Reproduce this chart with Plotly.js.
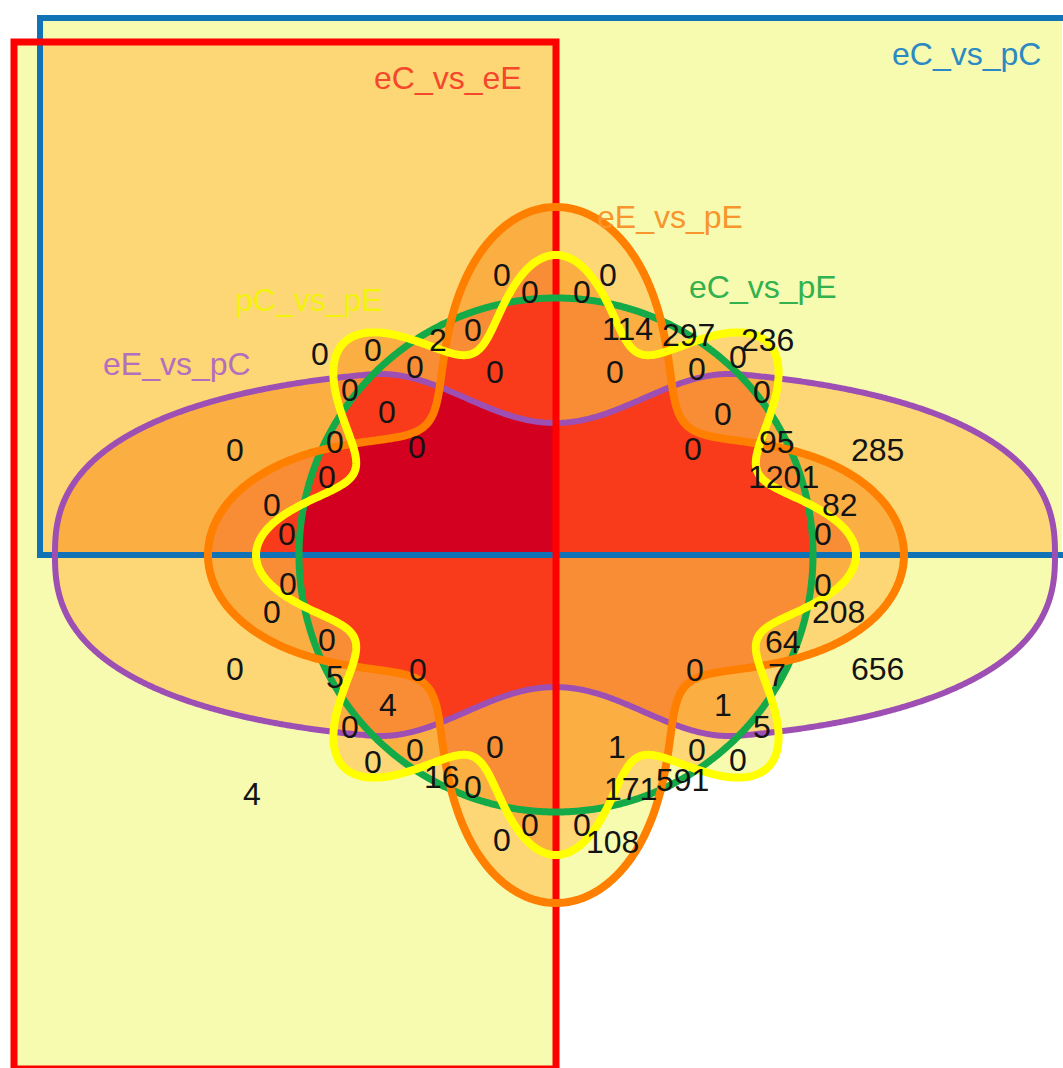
<!DOCTYPE html>
<html><head><meta charset="utf-8">
<script src="https://cdn.plot.ly/plotly-3.0.1.min.js"></script>
<style>html,body{margin:0;padding:0;background:#fff;}#chart{width:1063px;height:1068px;}</style>
</head><body><div id="chart"></div>
<script>
// ---------------- data ----------------
const setNames = ['eC_vs_eE', 'eC_vs_pC', 'eE_vs_pC', 'eE_vs_pE', 'eC_vs_pE', 'pC_vs_pE'];

const regionCounts = [
  // upper-left
  0,0,0,0,2,0,0,0,0,0,0,0,0,0,0,0,
  // upper-right
  0,0,114,297,236,0,0,0,0,0,0,95,285,1201,82,0,
  // lower-left
  0,0,0,0,5,0,4,0,0,0,0,16,0,4,0,0,
  // lower-right
  0,208,64,7,656,0,1,5,1,0,0,171,591,0,108
];

// label anchor positions (layout, not data)
const labelX = [502,530,320,373,438,473,415,495,350,387,235,335,417,327,272,287,
  582,608,627,688,767,615,697,738,762,723,693,777,877,783,840,823,
  288,272,327,235,335,418,388,350,373,415,495,442,473,252,530,502,
  823,838,783,777,877,695,723,762,617,697,738,630,682,582,612];
const labelY = [273,290,352,348,338,328,365,370,388,410,448,440,445,475,503,532,
  290,273,327,333,338,370,367,355,390,412,447,440,448,475,503,532,
  582,610,638,667,675,668,703,725,760,748,745,775,785,792,823,838,
  583,610,640,673,667,668,703,725,745,748,758,787,778,823,840];

// ---------------- geometry (style) ----------------
const W = 1063, H = 1068;
const CX = 556, CY = 555;
const RED = {x0: 14, x1: 556, y0: 42, y1: 1069};
const BLUE = {x0: 40, x1: 1100, y0: 18, y1: 555};
const PUR = {cx: 555, a: 500, b: 187, n: 2.5, dip: 55, w: 185};
const orangeR = t => 266 + 82 * Math.cos(4 * t);
const greenR = t => 257;
const yellowR = t => 259 + 41 * Math.cos(8 * t);

function purpleHalf(dx) {
  const u = Math.abs(dx) / PUR.a;
  if (u >= 1) return -1;
  let h = PUR.b * Math.pow(1 - Math.pow(u, PUR.n), 1 / PUR.n);
  if (Math.abs(dx) < PUR.w) h -= PUR.dip * (1 + Math.cos(Math.PI * dx / PUR.w)) / 2;
  return h;
}
function inPolar(x, y, rf) {
  const dx = x - CX, dy = -(y - CY);
  const t = Math.atan2(dy, dx);
  return Math.hypot(dx, dy) < rf(t);
}
function countAt(x, y) {
  let c = 0;
  if (x >= RED.x0 && x <= RED.x1 && y >= RED.y0 && y <= RED.y1) c++;
  if (x >= BLUE.x0 && x <= BLUE.x1 && y >= BLUE.y0 && y <= BLUE.y1) c++;
  const h = purpleHalf(x - PUR.cx);
  if (h > 0 && Math.abs(y - CY) < h) c++;
  if (inPolar(x, y, orangeR)) c++;
  if (inPolar(x, y, greenR)) c++;
  if (inPolar(x, y, yellowR)) c++;
  return c;
}

const step = 2;
const xs = [], ys = [];
for (let x = step / 2; x < W; x += step) xs.push(x);
for (let y = step / 2; y < H; y += step) ys.push(y);
const z = ys.map(y => xs.map(x => countAt(x, y)));

const fillColors = ['#ffffff', '#f7fbb0', '#fdd775', '#fbaf43', '#f98d36', '#f93b1c', '#d4001f'];
const cs = [];
fillColors.forEach((c, k) => { cs.push([k / 7, c]); cs.push([(k + 1) / 7, c]); });

function polarPath(rf) {
  const N = 1440; let s = '';
  for (let i = 0; i <= N; i++) {
    const t = 2 * Math.PI * i / N, r = rf(t);
    const x = CX + r * Math.cos(t), y = CY - r * Math.sin(t);
    s += (i ? 'L' : 'M') + x.toFixed(2) + ',' + y.toFixed(2);
  }
  return s + 'Z';
}
function purplePath() {
  const N = 1440; let s = '';
  for (let i = 0; i <= N; i++) {
    const t = 2 * Math.PI * i / N;
    const c = Math.cos(t), sn = Math.sin(t);
    const dx = PUR.a * Math.sign(c) * Math.pow(Math.abs(c), 2 / PUR.n);
    const h = Math.max(purpleHalf(dx), 0);
    const frac = Math.pow(Math.abs(sn), 2 / PUR.n);
    const hb = PUR.b * Math.pow(1 - Math.pow(Math.abs(dx) / PUR.a, PUR.n), 1 / PUR.n);
    const dy = hb > 0 ? h * (PUR.b * frac) / hb : 0;
    const x = PUR.cx + dx, y = CY - Math.sign(sn) * dy;
    s += (i ? 'L' : 'M') + x.toFixed(2) + ',' + y.toFixed(2);
  }
  return s + 'Z';
}

const shapes = [
  {type: 'rect', xref: 'x', yref: 'y', x0: BLUE.x0, x1: BLUE.x1, y0: BLUE.y0, y1: BLUE.y1, line: {color: '#1272b6', width: 6}},
  {type: 'path', xref: 'x', yref: 'y', path: purplePath(), line: {color: '#9d4fb4', width: 6}},
  {type: 'rect', xref: 'x', yref: 'y', x0: RED.x0, x1: RED.x1, y0: RED.y0, y1: RED.y1, line: {color: '#ff0000', width: 7}},
  {type: 'path', xref: 'x', yref: 'y', path: polarPath(greenR), line: {color: '#15aa48', width: 7}},
  {type: 'path', xref: 'x', yref: 'y', path: polarPath(orangeR), line: {color: '#ff7f00', width: 8}},
  {type: 'path', xref: 'x', yref: 'y', path: polarPath(yellowR), line: {color: '#ffff00', width: 8}}
];

const FONT = 'Liberation Sans, Arial, Helvetica, sans-serif';
const setLabelX = [448, 966, 177, 670, 763, 309];
const setLabelY = [78, 54, 364, 217, 287, 300];
const setLabelColors = ['#f4472b', '#2b89c3', '#b26fbd', '#f8952c', '#32b14e', '#f2f20c'];

const annotations = [];
setNames.forEach((n, i) => annotations.push({
  x: setLabelX[i], y: setLabelY[i], xref: 'x', yref: 'y', text: n, showarrow: false,
  xanchor: 'center', yanchor: 'middle', font: {family: FONT, size: 32, color: setLabelColors[i]}
}));
regionCounts.forEach((v, i) => annotations.push({
  x: labelX[i], y: labelY[i] + 2, xref: 'x', yref: 'y', text: String(v), showarrow: false,
  xanchor: 'center', yanchor: 'middle', font: {family: FONT, size: 32, color: '#141414'}
}));

const trace = {
  type: 'heatmap', x: xs, y: ys, z: z, colorscale: cs, zmin: -0.5, zmax: 6.5,
  showscale: false, hoverinfo: 'skip', zsmooth: false
};

Plotly.newPlot('chart', [trace], {
  width: W, height: H, margin: {l: 0, r: 0, t: 0, b: 0, pad: 0},
  paper_bgcolor: '#ffffff', plot_bgcolor: '#ffffff', showlegend: false,
  xaxis: {range: [0, W], visible: false, fixedrange: true},
  yaxis: {range: [H, 0], visible: false, fixedrange: true},
  shapes: shapes, annotations: annotations
}, {staticPlot: true, displayModeBar: false});
</script>
</body></html>
